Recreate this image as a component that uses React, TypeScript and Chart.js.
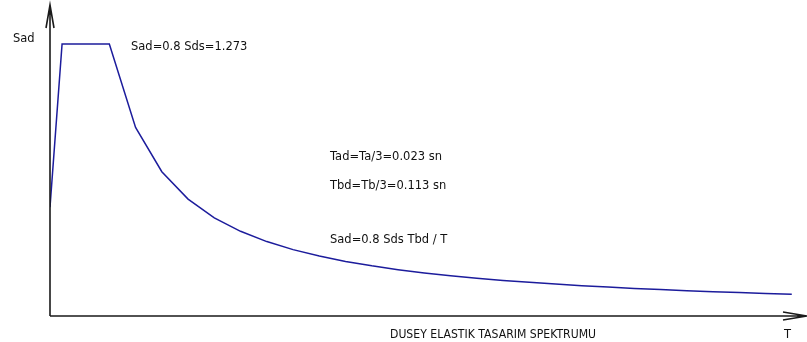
import React, { useEffect, useRef } from "react";
import { Chart, registerables } from "chart.js";

Chart.register(...registerables);

// Period T (s) and design spectral acceleration Sad
const periods = [
  0, 0.023, 0.113, 0.163, 0.213, 0.263, 0.313, 0.363, 0.413, 0.463, 0.513,
  0.563, 0.613, 0.663, 0.713, 0.763, 0.813, 0.863, 0.913, 0.963, 1.013, 1.063,
  1.113, 1.163, 1.213, 1.263, 1.313, 1.363, 1.413,
];
const sadValues = [
  0.509, 1.273, 1.273, 0.8825, 0.6754, 0.547, 0.4596, 0.3963, 0.3483, 0.3107,
  0.2804, 0.2555, 0.2347, 0.217, 0.2018, 0.1885, 0.1769, 0.1667, 0.1576,
  0.1494, 0.142, 0.1353, 0.1292, 0.1237, 0.1186, 0.1139, 0.1096, 0.1055,
  0.1018,
];
const yAxisTitle = "Sad";
const xAxisTitle = "T";
const chartTitle = "DUSEY ELASTIK TASARIM SPEKTRUMU";
const noteLines = [
  "Sad=0.8 Sds=1.273",
  "Tad=Ta/3=0.023 sn",
  "Tbd=Tb/3=0.113 sn",
  "Sad=0.8 Sds Tbd / T",
];

const FONT = '11.5px "DejaVu Sans", Verdana, sans-serif';

const axesPlugin = {
  id: "arrowAxes",
  afterDatasetsDraw(chart: any) {
    const { ctx, chartArea } = chart;
    const { left, right, top, bottom } = chartArea;
    ctx.save();
    ctx.strokeStyle = "#1a1a1a";
    ctx.lineWidth = 1.6;
    ctx.beginPath();
    // y axis
    ctx.moveTo(left, bottom);
    ctx.lineTo(left, top);
    ctx.moveTo(left - 4, top + 23);
    ctx.lineTo(left, top);
    ctx.lineTo(left + 4, top + 23);
    // x axis
    ctx.moveTo(left, bottom);
    ctx.lineTo(right, bottom);
    ctx.moveTo(right - 24, bottom - 4);
    ctx.lineTo(right, bottom);
    ctx.lineTo(right - 24, bottom + 4);
    ctx.stroke();

    ctx.fillStyle = "#111";
    ctx.font = FONT;
    ctx.textBaseline = "alphabetic";
    ctx.textAlign = "left";
    ctx.fillText(yAxisTitle, 13, 42);
    ctx.fillText(noteLines[0], 131, 50);
    ctx.fillText(noteLines[1], 330, 160);
    ctx.fillText(noteLines[2], 330, 189);
    ctx.fillText(noteLines[3], 330, 243);
    ctx.fillText(chartTitle, 390, 338, 206);
    ctx.fillText(xAxisTitle, 784, 338);
    ctx.restore();
  },
};

export default function App() {
  const ref = useRef<HTMLCanvasElement | null>(null);
  useEffect(() => {
    document.body.style.margin = "0";
    const canvas = ref.current;
    if (!canvas) return;
    const chart = new Chart(canvas, {
      type: "line",
      data: {
        datasets: [
          {
            data: periods.map((t, i) => ({ x: t, y: sadValues[i] })),
            borderColor: "#1c1c9c",
            borderWidth: 1.5,
            pointRadius: 0,
            tension: 0,
            fill: false,
          },
        ],
      },
      options: {
        responsive: false,
        animation: false,
        layout: { padding: { left: 50, right: 0, top: 5, bottom: 26 } },
        plugins: {
          legend: { display: false },
          tooltip: { enabled: false },
          title: { display: false },
        },
        scales: {
          x: { type: "linear", min: 0, max: 1.442, display: false },
          y: { type: "linear", min: 0, max: 1.4555, display: false },
        },
      },
      plugins: [axesPlugin],
    });
    return () => chart.destroy();
  }, []);
  return (
    <div style={{ width: 807, height: 342, background: "#fff" }}>
      <canvas ref={ref} width={807} height={342} style={{ display: "block" }} />
    </div>
  );
}
